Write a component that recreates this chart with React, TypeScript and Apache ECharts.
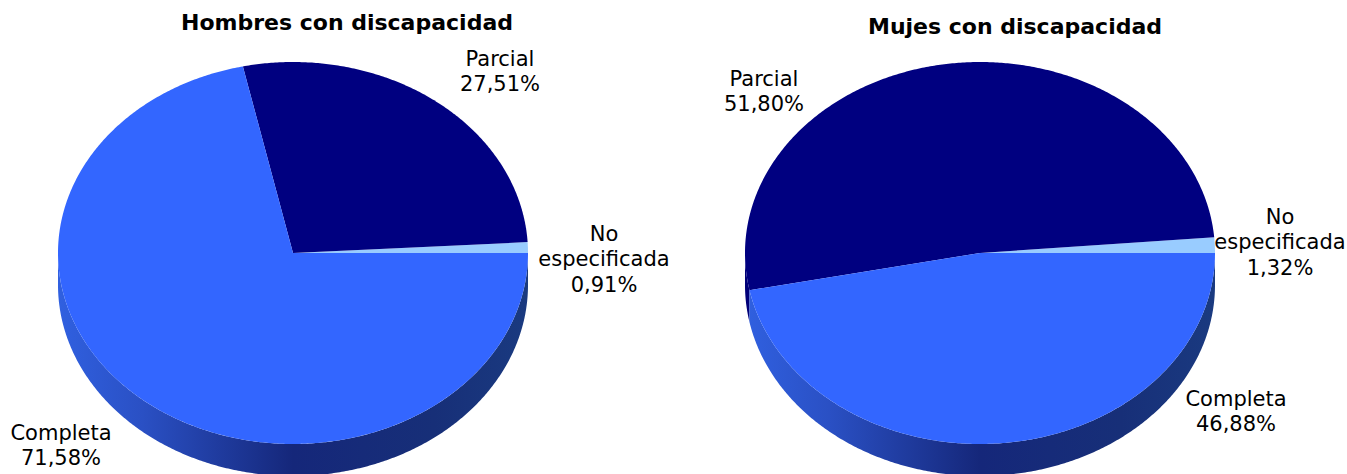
import React, { useEffect, useRef } from "react";
import * as echarts from "echarts";

const categories = ["No especificada", "Parcial", "Completa"];
const hombresValues = [0.91, 27.51, 71.58];
const mujeresValues = [1.32, 51.8, 46.88];
const sliceColors = ["#99CCFF", "#000080", "#3366FF"];
const titles = ["Hombres con discapacidad", "Mujes con discapacidad"];

const FONT = "'DejaVu Sans', Verdana, sans-serif";
const RX = 235;
const RY = 191;
const DEPTH = 32;
const CY = 253;

const hombresLayout = {
  cx: 293,
  labels: [
    { x: 604, y: 221 },
    { x: 500, y: 46 },
    { x: 61, y: 420 },
  ],
};
const mujeresLayout = {
  cx: 980,
  labels: [
    { x: 1280, y: 204 },
    { x: 764, y: 66 },
    { x: 1236, y: 386 },
  ],
};

function labelLines(name: string, value: number) {
  const pct = value.toFixed(2).replace(".", ",") + "%";
  return name.replace(" ", "\n") + "\n" + pct;
}

function arcPoints(cx: number, cy: number, a0: number, a1: number) {
  const pts: number[][] = [];
  const n = Math.max(2, Math.ceil(Math.abs(a1 - a0) / 0.5));
  for (let i = 0; i <= n; i++) {
    const t = ((a0 + ((a1 - a0) * i) / n) * Math.PI) / 180;
    pts.push([cx + RX * Math.cos(t), cy - RY * Math.sin(t)]);
  }
  return pts;
}

function wallGradient(cx: number, base: string) {
  const stops =
    base === "#000080"
      ? [
          { offset: 0, color: "#000078" },
          { offset: 1, color: "#000040" },
        ]
      : [
          { offset: 0, color: "#3060E0" },
          { offset: 0.18, color: "#2A50C4" },
          { offset: 0.5, color: "#15277A" },
          { offset: 0.8, color: "#172F78" },
          { offset: 1, color: "#1A3A80" },
        ];
  return new echarts.graphic.LinearGradient(cx - RX, 0, cx + RX, 0, stops, true);
}

function pieSeries(values: number[], layout: typeof hombresLayout) {
  const total = values.reduce((a, b) => a + b, 0);
  const starts = values.map((_, i) => values.slice(0, i).reduce((a, b) => a + b, 0));
  return {
    type: "custom",
    coordinateSystem: "none",
    silent: true,
    data: values.map((v, i) => ({ name: categories[i], value: v })),
    renderItem: (params: any) => {
      const i = params.dataIndex;
      const a0 = (starts[i] / total) * 360;
      const a1 = ((starts[i] + values[i]) / total) * 360;
      const children: any[] = [];
      const w0 = Math.max(a0, 180);
      if (a1 > w0) {
        const top = arcPoints(layout.cx, CY, w0, a1);
        const bottom = arcPoints(layout.cx, CY + DEPTH, a1, w0);
        children.push({
          type: "polygon",
          shape: { points: top.concat(bottom) },
          style: { fill: wallGradient(layout.cx, sliceColors[i]) },
        });
      }
      children.push({
        type: "polygon",
        shape: { points: [[layout.cx, CY] as number[]].concat(arcPoints(layout.cx, CY, a0, a1)) },
        style: { fill: sliceColors[i] },
      });
      children.push({
        type: "text",
        style: {
          text: labelLines(categories[i], values[i]),
          x: layout.labels[i].x,
          y: layout.labels[i].y,
          align: "center",
          verticalAlign: "top",
          fill: "#000",
          font: `21px ${FONT}`,
          lineHeight: 25.5,
        },
      });
      return { type: "group", children };
    },
  };
}

export default function App() {
  const ref = useRef<HTMLDivElement>(null);
  useEffect(() => {
    document.body.style.margin = "0";
    const chart = echarts.init(ref.current!, null, { renderer: "svg" });
    chart.setOption({
      animation: false,
      backgroundColor: "#fff",
      title: [
        {
          text: titles[0],
          left: 342,
          top: 6,
          textAlign: "center",
          textStyle: { fontFamily: FONT, fontWeight: "bold", fontSize: 22, color: "#000" },
        },
        {
          text: titles[1],
          left: 1010,
          top: 10,
          textAlign: "center",
          textStyle: { fontFamily: FONT, fontWeight: "bold", fontSize: 22, color: "#000" },
        },
      ],
      series: [pieSeries(hombresValues, hombresLayout), pieSeries(mujeresValues, mujeresLayout)],
    });
    return () => chart.dispose();
  }, []);
  return <div ref={ref} style={{ position: "absolute", left: 0, top: 0, width: 1347, height: 474 }} />;
}
